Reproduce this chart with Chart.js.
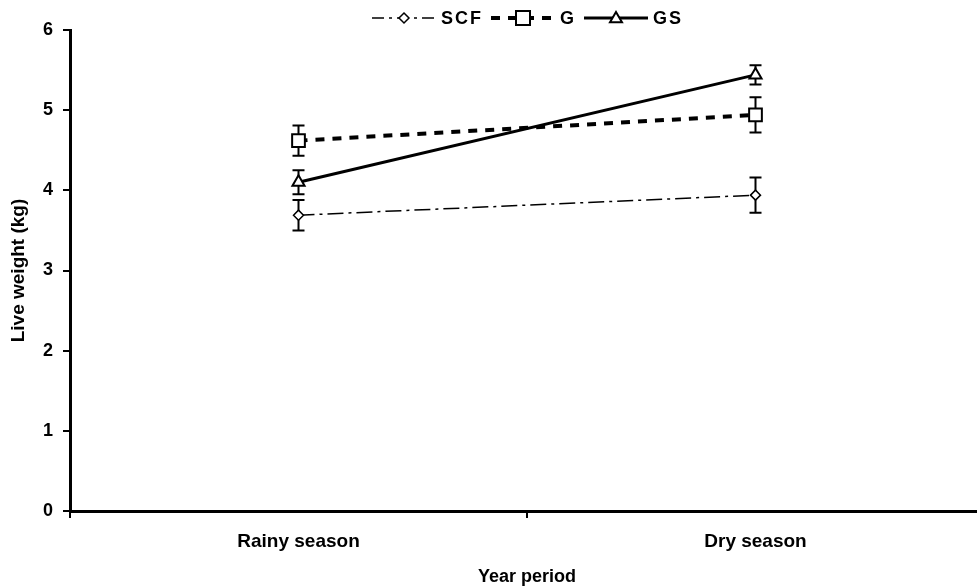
<!DOCTYPE html>
<html>
<head>
<meta charset="utf-8">
<script src="https://cdn.jsdelivr.net/npm/chart.js@4/dist/chart.umd.min.js"></script>
<style>
  html, body { margin: 0; padding: 0; background: #fff; overflow: hidden; }
  #wrap { width: 995px; height: 588px; }
</style>
</head>
<body>
<div id="wrap"><canvas id="chart" width="995" height="588"></canvas></div>
<script>
"use strict";
// values
const periods = ["Rainy season", "Dry season"];
const seriesNames = ["SCF", "G", "GS"];
const scfValues = [3.69, 3.94];
const gValues = [4.62, 4.94];
const gsValues = [4.10, 5.44];
const scfErrors = [0.19, 0.22];
const gErrors = [0.19, 0.22];
const gsErrors = [0.15, 0.12];
const yTicks = [0, 1, 2, 3, 4, 5, 6];

const FONT = "'Liberation Sans', Arial, sans-serif";

function makeSeries(label, data, errs, style) {
    return Object.assign({
        label: label,
        data: data,
        errors: errs,
        borderColor: "#000",
        pointBorderColor: "#000",
        pointBackgroundColor: "#fff",
        pointBorderWidth: 1.5,
        fill: false,
        tension: 0
    }, style);
}

const datasets = [
    makeSeries(seriesNames[0], scfValues, scfErrors, {
        borderWidth: 1.5, borderDash: [16, 5, 3, 5], pointStyle: "rectRot", pointRadius: 5
    }),
    makeSeries(seriesNames[1], gValues, gErrors, {
        borderWidth: 4, borderDash: [9, 8], pointStyle: "rect", pointRadius: 9, pointBorderWidth: 2
    }),
    makeSeries(seriesNames[2], gsValues, gsErrors, {
        borderWidth: 3, pointStyle: "triangle", pointRadius: 7, pointBorderWidth: 2
    })
];

// error bars, drawn under the markers
const errorBars = {
    id: "errorBars",
    beforeDatasetsDraw(chart) {
        const ctx = chart.ctx;
        const y = chart.scales.y;
        ctx.save();
        ctx.strokeStyle = "#000";
        ctx.lineWidth = 2;
        chart.data.datasets.forEach((ds, i) => {
            const meta = chart.getDatasetMeta(i);
            meta.data.forEach((pt, j) => {
                const top = y.getPixelForValue(ds.data[j] + ds.errors[j]);
                const bot = y.getPixelForValue(ds.data[j] - ds.errors[j]);
                ctx.beginPath();
                ctx.moveTo(pt.x, top); ctx.lineTo(pt.x, bot);
                ctx.moveTo(pt.x - 6, top); ctx.lineTo(pt.x + 6, top);
                ctx.moveTo(pt.x - 6, bot); ctx.lineTo(pt.x + 6, bot);
                ctx.stroke();
            });
        });
        ctx.restore();
    }
};

// legend: line sample with marker in the middle, then the name
const lineLegend = {
    id: "lineLegend",
    afterDraw(chart) {
        const ctx = chart.ctx;
        const sampleLen = 64, gapText = 5, gapItem = 8, cy = 18;
        ctx.save();
        ctx.font = "bold 18px " + FONT;
        if ("letterSpacing" in ctx) ctx.letterSpacing = "2px";
        const widths = chart.data.datasets.map(ds => ctx.measureText(ds.label).width);
        let x = 372;
        chart.data.datasets.forEach((ds, i) => {
            const c = x + sampleLen / 2;
            ctx.strokeStyle = "#000";
            ctx.lineWidth = ds.borderWidth;
            ctx.setLineDash(ds.pointStyle === "rectRot" ? [12, 5, 3, 5] : (ds.borderDash || []));
            ctx.beginPath();
            ctx.moveTo(x, cy); ctx.lineTo(x + sampleLen, cy);
            ctx.stroke();
            ctx.setLineDash([]);
            ctx.fillStyle = "#fff";
            ctx.lineWidth = ds.pointBorderWidth;
            ctx.beginPath();
            if (ds.pointStyle === "rect") {
                ctx.rect(c - 7, cy - 7, 14, 14);
            } else if (ds.pointStyle === "rectRot") {
                const r = 5;
                ctx.moveTo(c, cy - r); ctx.lineTo(c + r, cy); ctx.lineTo(c, cy + r); ctx.lineTo(c - r, cy); ctx.closePath();
            } else {
                const r = 6;
                ctx.moveTo(c, cy - r); ctx.lineTo(c + r, cy + r * 0.7); ctx.lineTo(c - r, cy + r * 0.7); ctx.closePath();
            }
            ctx.fill(); ctx.stroke();
            ctx.fillStyle = "#000";
            ctx.textBaseline = "middle";
            ctx.textAlign = "left";
            ctx.fillText(ds.label, x + sampleLen + gapText, cy + 1);
            x += sampleLen + gapText + widths[i] + gapItem;
        });
        ctx.restore();
    }
};

new Chart(document.getElementById("chart"), {
    type: "line",
    data: { labels: periods, datasets: datasets },
    plugins: [errorBars, lineLegend],
    options: {
        responsive: false,
        animation: false,
        layout: { padding: { top: 30, right: 0, left: 0, bottom: 0 } },
        plugins: {
            legend: { display: false },
            tooltip: { enabled: false }
        },
        scales: {
            x: {
                type: "category",
                offset: true,
                border: { color: "#000", width: 3 },
                grid: { offset: true, drawOnChartArea: false, color: "#000", lineWidth: 2, tickLength: 7 },
                ticks: { color: "#000", padding: 12, font: { family: FONT, size: 19, weight: "bold" } },
                title: { display: true, text: "Year period", color: "#000", padding: { top: 10, bottom: 0 },
                         font: { family: FONT, size: 18, weight: "bold" } },
                afterFit(scale) { scale.height = 77; }
            },
            y: {
                min: 0,
                max: 6,
                afterBuildTicks(scale) { scale.ticks = yTicks.map(v => ({ value: v })); },
                border: { color: "#000", width: 3 },
                grid: { drawOnChartArea: false, color: "#000", lineWidth: 2, tickLength: 7 },
                ticks: { color: "#000", padding: 10, font: { family: FONT, size: 18, weight: "bold" } },
                title: { display: true, text: "Live weight (kg)", color: "#000", padding: { top: 7, bottom: 0 },
                         font: { family: FONT, size: 19, weight: "bold" } },
                afterFit(scale) { scale.width = 70; }
            }
        }
    }
});
</script>
</body>
</html>
